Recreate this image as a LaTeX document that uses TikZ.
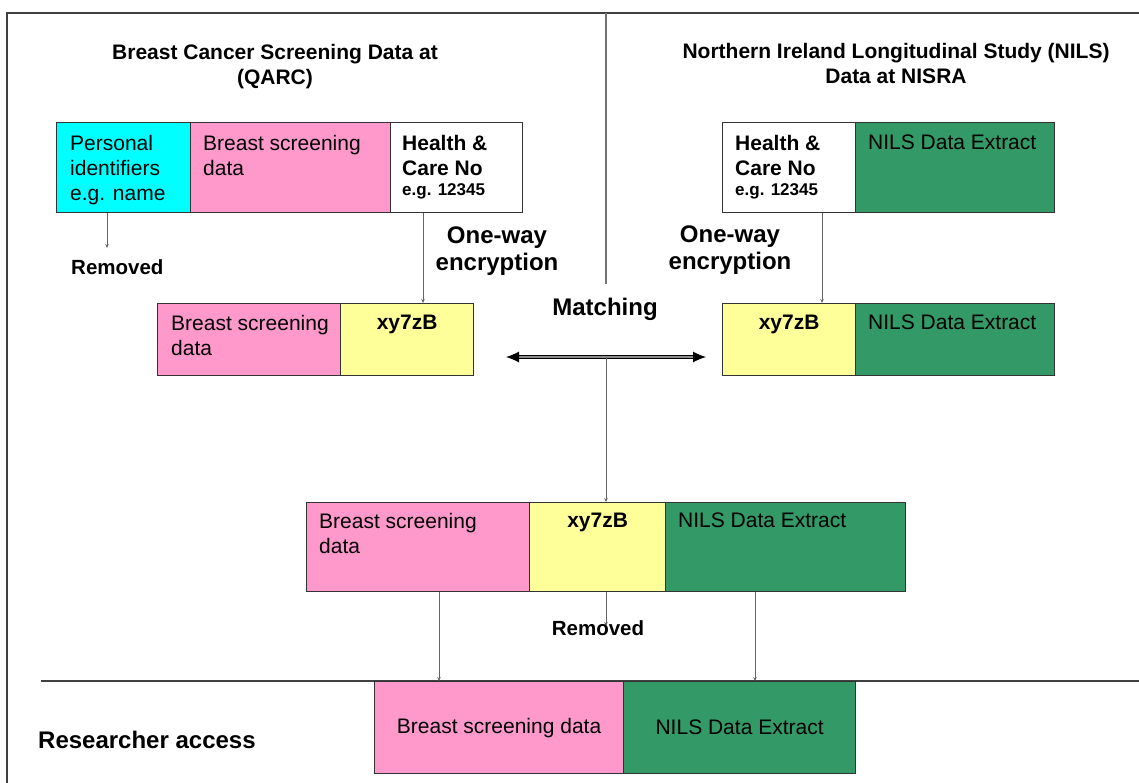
\documentclass[tikz,border=0pt]{standalone}
\usepackage{fontspec}
\setmainfont{Liberation Sans}
\usetikzlibrary{arrows.meta}

\definecolor{cyanbox}{HTML}{00FFFF}
\definecolor{pinkbox}{HTML}{FF99CC}
\definecolor{yellowbox}{HTML}{FFFF99}
\definecolor{greenbox}{HTML}{339966}

\begin{document}
\begin{tikzpicture}[x=1pt,y=-1pt]

    \tikzset{
      cell/.style={
        draw=black!80,
        line width=1.2pt,
        inner sep=0pt,
        anchor=north west,
      },
      txt/.style={
        inner sep=0pt,
        anchor=north west,
        align=left,
        font=\fontsize{21}{25}\selectfont,
      },
      key/.style={
        inner sep=0pt,
        anchor=north,
        font=\bfseries\fontsize{21}{25}\selectfont,
      },
      head/.style={
        inner sep=0pt,
        anchor=north,
        align=center,
        font=\bfseries\fontsize{21}{25}\selectfont,
      },
      step label/.style={
        inner sep=0pt,
        anchor=north,
        align=center,
        font=\bfseries\fontsize{24}{27}\selectfont,
      },
      link/.style={
        draw=black!60,
        line width=0.8pt,
        -{Stealth[length=4pt,width=3.5pt]},
      },
      match/.style={
        draw=black,
        line width=1pt,
        double=black!45,
        double distance=1.4pt,
        {Latex[length=13pt,width=11pt]}-{Latex[length=13pt,width=11pt]},
      },
      rule/.style={draw=black!75, line width=1.3pt},
    }
    \useasboundingbox (0,0) rectangle (1139,783);

    % frame and dividers
    \draw[rule] (7,783) -- (7,13) -- (1139,13);
    \draw[draw=black!55, line width=1.2pt] (606,13) -- (606,284);
    \draw[rule] (41,681) -- (1139,681);

    % titles
    \node[head] (titleA) at (275,44) {Breast Cancer Screening Data at\\(QARC)};
    \node[head] (titleB) at (896,43) {Northern Ireland Longitudinal Study (NILS)\\Data at NISRA};

    % QARC record
    \node[cell, fill=cyanbox, minimum width=134pt, minimum height=90pt] (pidA) at (56,122) {};
    \node[cell, fill=pinkbox, minimum width=200pt, minimum height=90pt] (bsA) at (190,122) {};
    \node[cell, fill=white, minimum width=132pt, minimum height=90pt] (hcnA) at (390,122) {};
    \node[txt] at ([shift={(14,13)}]pidA.north west) {Personal\\identifiers\\e.g. name};
    \node[txt] at ([shift={(13,13)}]bsA.north west) {Breast screening\\data};
    \node[txt, font=\bfseries\fontsize{21}{25}\selectfont] at ([shift={(12,13)}]hcnA.north west)
      {Health \&\\Care No\\[-5pt]{\fontsize{17}{20}\selectfont e.g. 12345}};

    % NISRA record
    \node[cell, fill=white, minimum width=133pt, minimum height=90pt] (hcnB) at (722,122) {};
    \node[cell, fill=greenbox, minimum width=199pt, minimum height=90pt] (nilsA) at (855,122) {};
    \node[txt, font=\bfseries\fontsize{21}{25}\selectfont] at ([shift={(13,13)}]hcnB.north west)
      {Health \&\\Care No\\[-5pt]{\fontsize{17}{20}\selectfont e.g. 12345}};
    \node[txt] at ([shift={(13,13)}]nilsA.north west) {NILS Data Extract};

    % encrypted records
    \node[cell, fill=pinkbox, minimum width=183pt, minimum height=72pt] (bsB) at (157,303) {};
    \node[cell, fill=yellowbox, minimum width=133pt, minimum height=72pt] (xyA) at (340,303) {};
    \node[txt] at ([shift={(14,12)}]bsB.north west) {Breast screening\\data};
    \node[key] at ([shift={(0,12)}]xyA.north) {xy7zB};

    \node[cell, fill=yellowbox, minimum width=133pt, minimum height=72pt] (xyB) at (722,303) {};
    \node[cell, fill=greenbox, minimum width=199pt, minimum height=72pt] (nilsB) at (855,303) {};
    \node[key] at ([shift={(0,12)}]xyB.north) {xy7zB};
    \node[txt] at ([shift={(13,12)}]nilsB.north west) {NILS Data Extract};

    % linked record
    \node[cell, fill=pinkbox, minimum width=223pt, minimum height=89pt] (bsC) at (306,502) {};
    \node[cell, fill=yellowbox, minimum width=136pt, minimum height=89pt] (xyC) at (529,502) {};
    \node[cell, fill=greenbox, minimum width=240pt, minimum height=89pt] (nilsC) at (665,502) {};
    \node[txt] at ([shift={(13,11)}]bsC.north west) {Breast screening\\data};
    \node[key] at ([shift={(0,11)}]xyC.north) {xy7zB};
    \node[txt] at ([shift={(13,11)}]nilsC.north west) {NILS Data Extract};

    % researcher extract
    \node[cell, fill=pinkbox, minimum width=249pt, minimum height=92pt] (bsD) at (374,681) {};
    \node[cell, fill=greenbox, minimum width=232pt, minimum height=92pt] (nilsD) at (623,681) {};
    \node[font=\fontsize{21}{25}\selectfont] at (bsD.center) {Breast screening data};
    \node[font=\fontsize{21}{25}\selectfont] at (nilsD.center) {NILS Data Extract};

    % connectors
    \coordinate (remA) at (107,248);
    \coordinate (encL) at (423,0);
    \coordinate (encR) at (822,0);
    \coordinate (matchL) at (506,357);
    \coordinate (matchR) at (706,357);
    \coordinate (matchM) at (606,357);
    \coordinate (remC) at (606,626);
    \coordinate (outL) at (439,0);
    \coordinate (outR) at (755,0);

    \draw[link] (remA |- pidA.south) -- (remA);
    \draw[link] (encL |- hcnA.south) -- (encL |- xyA.north);
    \draw[link] (encR |- hcnB.south) -- (encR |- xyB.north);
    \draw[match] (matchL) -- (matchR);
    \draw[link] (matchM) -- (matchM |- xyC.north);
    \draw[link] (remC |- xyC.south) -- (remC);
    \draw[link] (outL |- bsC.south) -- (outL |- bsD.north);
    \draw[link] (outR |- nilsC.south) -- (outR |- nilsD.north);

    % step labels
    \node[step label] (encA) at (497,227) {One-way\\encryption};
    \node[step label] (encB) at (730,226) {One-way\\encryption};
    \node[step label, anchor=base] (matching) at (605,315) {Matching};
    \node[key, anchor=base west, font=\bfseries\fontsize{20.5}{25}\selectfont] (removedA) at (71,275) {Removed};
    \node[key, anchor=base, font=\bfseries\fontsize{20.5}{25}\selectfont] (removedC) at (598,635) {Removed};
    \node[key, anchor=base west, font=\bfseries\fontsize{24}{27}\selectfont] (access) at (38,748) {Researcher access};

\end{tikzpicture}
\end{document}
